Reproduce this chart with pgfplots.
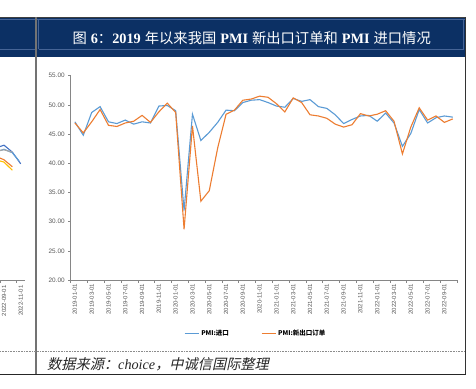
\documentclass[border=0pt]{standalone}
\usepackage{fontspec}
\usepackage{pgfplots}
\usepackage{pgfplotstable}
\pgfplotsset{compat=1.18}
\setmainfont{Liberation Sans}
\newfontfamily\cjk{Noto Sans CJK SC}
\newfontfamily\cjks{Noto Sans CJK SC}[FakeSlant=0.22]
\newfontfamily\tnr{Liberation Serif}
\definecolor{navy}{RGB}{12,48,100}
\definecolor{navyline}{RGB}{70,100,150}
\definecolor{axgray}{RGB}{134,134,134}
\definecolor{lblgray}{RGB}{89,89,89}
\definecolor{sblue}{RGB}{91,155,213}
\definecolor{sorange}{RGB}{237,125,49}
\definecolor{dblue}{RGB}{68,114,196}
\definecolor{sgray}{RGB}{165,165,165}
\definecolor{syellow}{RGB}{255,192,0}

\pgfplotstableread{
idx imp exp
0 47.1 46.9
1 44.8 45.2
2 48.7 47.1
3 49.7 49.2
4 47.1 46.5
5 46.8 46.3
6 47.4 46.9
7 46.7 47.2
8 47.1 48.2
9 46.9 47.0
10 49.8 48.8
11 49.9 50.3
12 49.0 48.7
13 31.9 28.7
14 48.4 46.4
15 43.9 33.5
16 45.3 35.3
17 47.0 42.6
18 49.1 48.4
19 49.0 49.1
20 50.4 50.8
21 50.8 51.0
22 50.9 51.5
23 50.4 51.3
24 49.8 50.2
25 49.6 48.8
26 51.1 51.2
27 50.6 50.4
28 50.9 48.3
29 49.7 48.1
30 49.4 47.7
31 48.3 46.7
32 46.8 46.2
33 47.5 46.6
34 48.1 48.5
35 48.2 48.1
36 47.2 48.4
37 48.6 49.0
38 46.9 47.2
39 42.9 41.6
40 45.1 46.2
41 49.2 49.5
42 46.9 47.4
43 47.8 48.1
44 48.1 47.0
45 47.9 47.6
}\pmidata

\begin{document}
\begin{tikzpicture}[x=1pt,y=1pt]
\path[use as bounding box, clip] (0,0) rectangle (476,388);
\fill[white] (0,0) rectangle (476,388);
% title band
\fill[navy] (0,330.5) rectangle (465.5,370.5);
\draw[navyline, line width=0.7pt] (0,368.8) -- (465,368.8);
\draw[navyline, line width=0.7pt] (0,338.7) -- (34.5,338.7);
\draw[navyline, line width=0.7pt] (38.8,338.7) -- (463,338.7) -- (463,368.8);
\draw[navyline, line width=0.7pt] (38.8,338.7) -- (38.8,368.8);
\draw[black!75, line width=0.8pt] (0,370.5) -- (465.5,370.5);
\node[text=white, inner sep=0pt] at (251.7,349.7) {\fontsize{14.3}{16}\selectfont
{\cjk 图} {\tnr\bfseries 6}{\cjk ：}{\tnr\bfseries 2019} {\cjk 年以来我国} {\tnr\bfseries PMI} {\cjk 新出口订单和} {\tnr\bfseries PMI} {\cjk 进口情况}};
% frame lines
\draw[black!55, line width=1.4pt] (36,370.5) -- (36,13.5);
\draw[black!80, line width=0.8pt] (465.5,370.5) -- (465.5,14);
\draw[black!85, line width=1pt] (0,14) -- (466,14);
\draw[black!45, line width=0.6pt, dash pattern=on 0.8pt off 0.8pt] (0,37) -- (465,37);
% source
\node[anchor=west, inner sep=0pt, text=black!85] at (47,23.5) {\fontsize{14.2}{16}\selectfont{\cjks 数据来源：}{\tnr\itshape choice}{\cjks ，中诚信国际整理}};

% left partial chart
\begin{axis}[at={(-79.6pt,108pt)}, anchor=south west, width=104.5pt, height=204.3pt, scale only axis,
  xmin=-10, xmax=2.5, ymin=20, ymax=55,
  axis x line*=bottom, axis y line=none,
  axis line style={axgray, line width=0.6pt},
  xtick={-2,0,2}, xticklabels={2022-07-01,2022-09-01,2022-11-01},
  minor xtick={-0.5,1.5},
  major x tick style={draw=none},
  minor x tick style={axgray, line width=0.5pt},
  minor tick length=2.5pt, tick align=outside,
  x tick label style={rotate=90, anchor=east, font=\fontsize{6}{7}\selectfont, text=lblgray, inner sep=1pt},
  clip=false]
\addplot[dblue, line width=1.1pt] coordinates {(-1,42.6) (0,43.1) (1,41.9) (2,39.9)};
\addplot[sblue, line width=1.1pt] coordinates {(-1,41.9) (0,42.4) (1,41.8) (1.8,40.4)};
\addplot[sgray, line width=1.1pt] coordinates {(-1,42.1) (0,42.3) (1,41.9)};
\addplot[sorange, line width=1.1pt] coordinates {(-1,41.2) (0,40.6) (1,39.4)};
\addplot[syellow, line width=1.1pt] coordinates {(-1,40.6) (0,40.2) (1,38.8)};
\end{axis}

% main chart
\begin{axis}[at={(70.7pt,108pt)}, anchor=south west, width=386.3pt, height=204.3pt, scale only axis,
  xmin=-0.5, xmax=45.5, ymin=20, ymax=55,
  axis x line*=bottom, axis y line*=left,
  axis line style={axgray, line width=0.6pt},
  /pgf/number format/assume math mode=true,
  ytick={20,25,...,55},
  yticklabel style={/pgf/number format/fixed, /pgf/number format/fixed zerofill, /pgf/number format/precision=2,
    font=\fontsize{6.4}{7}\selectfont, text=lblgray},
  xtick={0,2,...,44},
  xticklabels={2019-01-01,2019-03-01,2019-05-01,2019-07-01,2019-09-01,2019-11-01,
    2020-01-01,2020-03-01,2020-05-01,2020-07-01,2020-09-01,2020-11-01,
    2021-01-01,2021-03-01,2021-05-01,2021-07-01,2021-09-01,2021-11-01,
    2022-01-01,2022-03-01,2022-05-01,2022-07-01,2022-09-01},
  minor xtick={-0.5,1.5,...,45.5},
  major x tick style={draw=none},
  minor x tick style={axgray, line width=0.5pt},
  major y tick style={axgray, line width=0.5pt},
  major tick length=2.5pt, minor tick length=2.5pt, tick align=outside,
  x tick label style={rotate=90, anchor=east, font=\fontsize{6}{7}\selectfont, text=lblgray, inner sep=1pt},
  legend columns=2,
  legend style={at={(0.479,-0.264)}, anchor=center, draw=none, fill=none,
    font=\fontsize{6.5}{7}\selectfont\cjk\bfseries,
    /tikz/every even column/.append style={column sep=30pt}},
  legend image code/.code={\draw[#1] (0pt,0pt) -- (14pt,0pt);},
  clip=false]
\addplot[sblue, line width=1.1pt] table[x=idx, y=imp] {\pmidata};
\addlegendentry{PMI:进口}
\addplot[sorange, line width=1.1pt] table[x=idx, y=exp] {\pmidata};
\addlegendentry{PMI:新出口订单}
\end{axis}
\end{tikzpicture}
\end{document}
